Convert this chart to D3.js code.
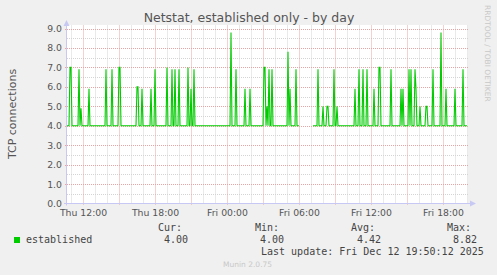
<!DOCTYPE html>
<html lang="en">
<head>
  <meta charset="UTF-8">
  <title>Netstat, established only - by day</title>
  <script src="https://d3js.org/d3.v7.min.js"></script>
  <style>
    html, body { margin: 0; padding: 0; background: #f0f0f0; }
    svg { display: block; }
    text { font-family: "DejaVu Sans", sans-serif; }
    .mono { font-family: "DejaVu Sans Mono", monospace; font-size: 10px; fill: #444; }
  </style>
</head>
<body>
  <script>
    // Chart data (5 minute samples)
    const startTime = "2025-12-11 10:40";
    const endTime = "2025-12-12 20:00";
    const baseline = 4.0;   // value between spikes
    const spikeTimes = [
      "2025-12-11 10:55", "2025-12-11 11:00", "2025-12-11 11:40", "2025-12-11 11:50",
      "2025-12-11 12:30", "2025-12-11 13:55", "2025-12-11 14:25", "2025-12-11 15:00",
      "2025-12-11 15:05", "2025-12-11 16:30", "2025-12-11 16:35", "2025-12-11 16:55",
      "2025-12-11 17:40", "2025-12-11 18:00", "2025-12-11 19:00", "2025-12-11 19:25",
      "2025-12-11 19:40", "2025-12-11 20:00", "2025-12-11 20:45", "2025-12-11 21:00",
      "2025-12-11 21:15", "2025-12-12 00:20", "2025-12-12 00:45", "2025-12-12 01:30",
      "2025-12-12 01:55", "2025-12-12 03:05", "2025-12-12 03:10", "2025-12-12 03:20",
      "2025-12-12 03:30", "2025-12-12 03:45", "2025-12-12 05:05", "2025-12-12 05:15",
      "2025-12-12 05:45", "2025-12-12 07:35", "2025-12-12 08:00", "2025-12-12 08:20",
      "2025-12-12 08:25", "2025-12-12 08:55", "2025-12-12 09:10", "2025-12-12 10:40",
      "2025-12-12 11:00", "2025-12-12 11:20", "2025-12-12 11:40", "2025-12-12 12:15",
      "2025-12-12 12:40", "2025-12-12 12:45", "2025-12-12 13:40", "2025-12-12 14:30",
      "2025-12-12 14:40", "2025-12-12 15:10", "2025-12-12 15:20", "2025-12-12 15:40",
      "2025-12-12 15:45", "2025-12-12 16:05", "2025-12-12 16:35", "2025-12-12 16:40",
      "2025-12-12 17:10", "2025-12-12 17:50", "2025-12-12 18:15", "2025-12-12 19:00",
      "2025-12-12 19:40"
    ];
    const spikeValues = [
      7.0, 7.0, 6.9, 4.9,
      5.9, 6.9, 6.9, 7.0,
      7.0, 6.0, 6.0, 5.9,
      5.9, 6.9, 7.0, 6.9,
      6.9, 6.9, 7.0, 5.9,
      6.9, 8.8, 6.9, 5.9,
      5.9, 7.0, 7.0, 5.0,
      6.9, 6.9, 7.8, 5.9,
      6.9, 6.9, 5.0, 5.0,
      5.0, 6.9, 5.0, 5.9,
      6.9, 6.9, 6.9, 5.9,
      7.0, 7.0, 6.9, 5.9,
      5.9, 6.9, 6.9, 6.9,
      5.9, 5.0, 5.0, 5.0,
      6.9, 8.8, 5.9, 5.9,
      6.9
    ];
    // no data recorded in this window
    const gapStart = "2025-12-12 06:05";
    const gapEnd = "2025-12-12 07:05";

    const yTicks = [0, 1, 2, 3, 4, 5, 6, 7, 8, 9];
    const legendHeaders = ["Cur:", "Min:", "Avg:", "Max:"];
    const legendValues = ["4.00", "4.00", "4.42", "8.82"];

    const width = 497;
    const height = 275;
    const plotLeft = 67, plotRight = 467, plotTop = 28.5, plotBottom = 203.5;

    const parse = d3.timeParse("%Y-%m-%d %H:%M");
    const t0 = parse(startTime), t1 = parse(endTime);
    const g0 = parse(gapStart), g1 = parse(gapEnd);

    // build the sampled series
    const spikeMap = new Map(spikeTimes.map((s, i) => [+parse(s), spikeValues[i]]));
    const series = d3.timeMinute.every(5).range(t0, d3.timeMinute.offset(t1, 1)).map(t => {
      let v = spikeMap.has(+t) ? spikeMap.get(+t) : baseline;
      if (t >= g0 && t <= g1) v = NaN;
      return { t: t, v: v };
    });

    const x = d3.scaleTime().domain([t0, t1]).range([plotLeft, plotRight]);
    const y = d3.scaleLinear().domain([0, 9]).range([plotBottom, plotTop]);

    const svg = d3.select("body").append("svg")
      .attr("width", width)
      .attr("height", height);

    svg.append("rect").attr("width", width).attr("height", height).attr("fill", "#f0f0f0");
    svg.append("rect")
      .attr("x", plotLeft).attr("y", 25)
      .attr("width", plotRight - plotLeft + 1).attr("height", plotBottom - 25)
      .attr("fill", "#ffffff");

    const px = v => Math.round(v) + 0.5;

    // minor grid
    const minorY = d3.range(0.5, 9.01, 1);
    svg.append("g").selectAll("line").data(minorY).enter().append("line")
      .attr("x1", plotLeft).attr("x2", plotRight + 1)
      .attr("y1", d => px(y(d))).attr("y2", d => px(y(d)))
      .attr("stroke", "#d4d4d4").attr("stroke-dasharray", "1,1");
    const minorX = x.ticks(d3.timeHour.every(1)).filter(d => d.getHours() % 3 !== 0);
    svg.append("g").selectAll("line").data(minorX).enter().append("line")
      .attr("x1", d => px(x(d))).attr("x2", d => px(x(d)))
      .attr("y1", plotTop - 3).attr("y2", plotBottom)
      .attr("stroke", "#d4d4d4").attr("stroke-dasharray", "1,1");

    // major grid
    svg.append("g").selectAll("line").data(yTicks.slice(1)).enter().append("line")
      .attr("x1", plotLeft - 2).attr("x2", plotRight + 1)
      .attr("y1", d => px(y(d))).attr("y2", d => px(y(d)))
      .attr("stroke", "#e8a4a4").attr("stroke-dasharray", "1,1");
    const majorX = x.ticks(d3.timeHour.every(3));
    svg.append("g").selectAll("line").data(majorX).enter().append("line")
      .attr("x1", d => px(x(d))).attr("x2", d => px(x(d)))
      .attr("y1", plotTop - 3).attr("y2", plotBottom + 2)
      .attr("stroke", "#e8a4a4").attr("stroke-dasharray", "1,1");

    // axes lines with arrows
    const axisColor = "#c8c8f4";
    svg.append("line").attr("x1", plotLeft - 0.5).attr("x2", plotLeft - 0.5)
      .attr("y1", plotBottom + 2).attr("y2", 24).attr("stroke", axisColor);
    svg.append("line").attr("x1", plotLeft - 3).attr("x2", plotRight + 4)
      .attr("y1", plotBottom).attr("y2", plotBottom).attr("stroke", axisColor);
    svg.append("path").attr("d", `M${plotLeft - 3.5},26 L${plotLeft - 0.5},20 L${plotLeft + 2.5},26 Z`).attr("fill", axisColor);
    svg.append("path").attr("d", `M${plotRight + 3},${plotBottom - 3} L${plotRight + 9},${plotBottom} L${plotRight + 3},${plotBottom + 3} Z`).attr("fill", axisColor);

    // y tick labels
    const yAxis = svg.append("g")
      .attr("transform", `translate(${plotLeft - 5},0)`)
      .call(d3.axisLeft(y).tickValues(yTicks).tickFormat(d3.format(".1f")).tickSize(0).tickPadding(0));
    yAxis.select(".domain").remove();
    yAxis.selectAll("text").attr("font-family", "DejaVu Sans").attr("font-size", "9.3px").attr("fill", "#555");

    // x tick labels
    const xAxis = svg.append("g")
      .attr("transform", `translate(0,${plotBottom + 4})`)
      .call(d3.axisBottom(x).ticks(d3.timeHour.every(6)).tickFormat(d3.timeFormat("%a %H:%M")).tickSize(0).tickPadding(0));
    xAxis.select(".domain").remove();
    xAxis.selectAll("text").attr("font-family", "DejaVu Sans").attr("font-size", "9.3px").attr("fill", "#555")
      .attr("dy", "0.9em");

    // data line
    const line = d3.line()
      .defined(d => !isNaN(d.v))
      .x(d => x(d.t))
      .y(d => y(d.v));
    svg.append("path")
      .datum(series)
      .attr("d", line)
      .attr("fill", "none")
      .attr("stroke", "#00cc00")
      .attr("stroke-width", 1.1);

    // title and labels
    svg.append("text")
      .attr("x", 249).attr("y", 22)
      .attr("text-anchor", "middle")
      .attr("font-size", "12.5px").attr("fill", "#555")
      .text("Netstat, established only - by day");

    svg.append("text")
      .attr("transform", "translate(16,114) rotate(-90)")
      .attr("text-anchor", "middle")
      .attr("font-size", "11px").attr("fill", "#555")
      .text("TCP connections");

    svg.append("text")
      .attr("transform", "translate(485,5) rotate(90)")
      .attr("text-anchor", "start")
      .attr("font-size", "7.5px").attr("fill", "#c8c8c8")
      .text("RRDTOOL / TOBI OETIKER");

    // legend
    svg.append("rect").attr("x", 14).attr("y", 237).attr("width", 6).attr("height", 6).attr("fill", "#00cc00");
    svg.append("text").attr("class", "mono").attr("x", 26).attr("y", 243).text("established");
    const headX = [158, 255, 351, 447];
    const valX = [164, 260, 357, 453];
    legendHeaders.forEach((h, i) => {
      svg.append("text").attr("class", "mono").attr("x", headX[i]).attr("y", 231).text(h);
      svg.append("text").attr("class", "mono").attr("x", valX[i]).attr("y", 243).text(legendValues[i]);
    });
    svg.append("text").attr("class", "mono").attr("x", 261).attr("y", 255)
      .text("Last update: Fri Dec 12 19:50:12 2025");

    svg.append("text")
      .attr("x", 223).attr("y", 267)
      .attr("font-size", "7.5px").attr("fill", "#c8c8c8")
      .text("Munin 2.0.75");
  </script>
</body>
</html>
